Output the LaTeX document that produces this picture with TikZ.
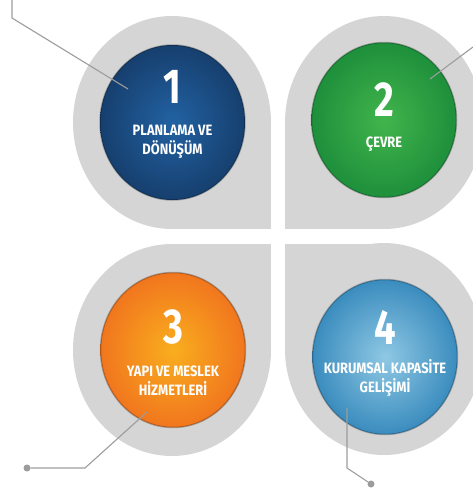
\documentclass[tikz,border=0pt]{standalone}
\usepackage{fontspec}
\usepackage{xcolor}
\usetikzlibrary{shapes.geometric}

\newfontfamily\lblfont[FakeStretch=0.86]{Fira Sans}
\newfontfamily\numfont[FakeStretch=0.78]{Fira Sans}

\definecolor{tearGray}{HTML}{D5D5D5}
\definecolor{leadGray}{HTML}{9C9C9C}
\definecolor{navyIn}{HTML}{2262A3}
\definecolor{navyOut}{HTML}{163F6E}
\definecolor{greenIn}{HTML}{41B54C}
\definecolor{greenOut}{HTML}{1E8F3B}
\definecolor{orangeIn}{HTML}{F9AE1E}
\definecolor{orangeOut}{HTML}{F1761E}
\definecolor{skyIn}{HTML}{8FC8E4}
\definecolor{skyOut}{HTML}{3A8CBE}

\begin{document}
\begin{tikzpicture}[
    x=1pt, y=-1pt,
    tear/.style={fill=tearGray},
    disc/.style={
        ellipse,
        minimum width=145pt,
        minimum height=155pt,
        draw=black, draw opacity=0.25,
        line width=1.5pt
    },
    num/.style={text=white, font=\numfont\bfseries\fontsize{49}{49}\selectfont},
    lbl/.style={text=white, align=center, font=\lblfont\bfseries\fontsize{15}{19}\selectfont},
    lead/.style={draw=leadGray, line width=1.1pt},
    dot/.style={circle, fill=leadGray, inner sep=0pt, minimum size=7pt}
]
\useasboundingbox (0,0) rectangle (473,493);
\clip (0,0) rectangle (473,493);

% --- Gray teardrops (circle + square corner towards the middle) ---
\fill[tear] (172,122.5) ellipse [x radius=99, y radius=106.5];
\fill[tear] (172,122.5) rectangle (271,229);
\fill[tear] (384,122.5) ellipse [x radius=99, y radius=106.5];
\fill[tear] (384,122.5) rectangle (285,229);
\fill[tear] (172,350) ellipse [x radius=99, y radius=106];
\fill[tear] (172,350) rectangle (271,244);
\fill[tear] (384,349) ellipse [x radius=99, y radius=106];
\fill[tear] (384,349) rectangle (285,244);

% --- Colored discs ---
\node[disc, inner color=navyIn, outer color=navyOut] (p1) at (172.5,122.5) {};
\node[disc, inner color=greenIn, outer color=greenOut] (p2) at (384,120) {};
\node[disc, inner color=orangeIn, outer color=orangeOut] (p3) at (173,350) {};
\node[disc, inner color=skyIn, outer color=skyOut] (p4) at (385,357) {};

% --- Leader lines ---
\coordinate (s1) at (12,0);
\coordinate (k1) at (12,18);
\coordinate (e1) at (128,89);
\coordinate (s2) at (473,47);
\coordinate (e2) at (430,79);
\node[dot] (d3) at (27,468) {};
\coordinate (k3) at (85,468);
\coordinate (e3) at (147,412);
\node[dot] (d4) at (371,484) {};
\coordinate (k4) at (347,468);
\coordinate (e4) at (347,408);

\draw[lead] (s1) -- (k1) -- (e1);
\draw[lead] (s2) -- (e2);
\draw[lead] (d3) -- (k3) -- (e3);
\draw[lead] (d4) -- (k4) -- (e4);

% --- Texts ---
\node[num] (n1) at (172.5,87) {1};
\node[lbl] (t1) at (172.5,142) {PLANLAMA VE\\DÖNÜŞÜM};
\node[num] (n2) at (384,100) {2};
\node[lbl] (t2) at (384,144) {ÇEVRE};
\node[num] (n3) at (173,327.5) {3};
\node[lbl] (t3) at (173,381) {YAPI VE MESLEK\\HİZMETLERİ};
\node[num] (n4) at (385,327.5) {4};
\node[lbl] (t4) at (385,378) {KURUMSAL KAPASİTE\\GELİŞİMİ};

\end{tikzpicture}
\end{document}
